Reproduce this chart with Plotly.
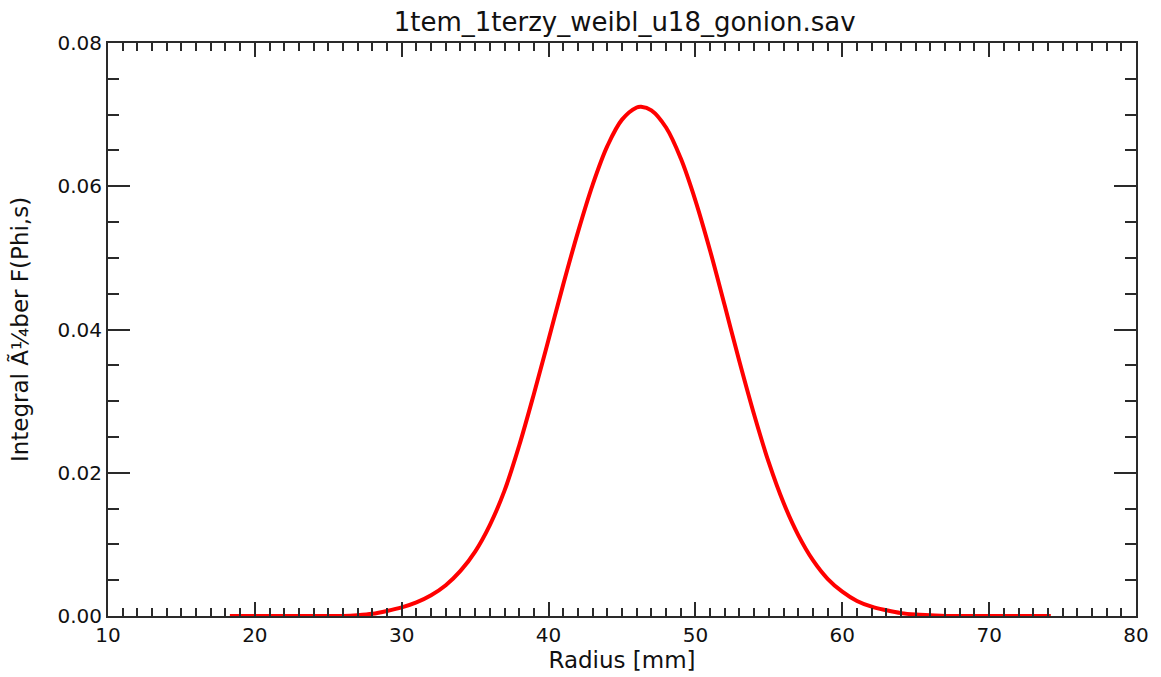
import plotly.graph_objects as go

radius_mm = [18.3, 20, 22, 24, 26, 27, 28, 29, 30, 31, 32, 33, 34, 35, 36, 37, 38, 39, 40,
             41, 42, 43, 44, 45, 46, 46.3, 47, 48, 49, 50, 51, 52, 53, 54, 55, 56, 57,
             58, 59, 60, 61, 62, 63, 64, 65, 66, 67, 68, 70, 72, 74.2]
integral_f = [0.0, 0.0, 0.0, 0.0, 0.0, 0.0001, 0.0003, 0.0007, 0.0012, 0.0019, 0.0029,
              0.0043, 0.0063, 0.0090, 0.0127, 0.0175, 0.0238, 0.0310, 0.0386,
              0.0463, 0.0536, 0.0602, 0.0656, 0.0693, 0.0710, 0.0711, 0.0706, 0.0682,
              0.0639, 0.0580, 0.0510, 0.0433, 0.0355, 0.0281, 0.0214, 0.0158, 0.0113,
              0.0078, 0.0052, 0.0034, 0.0021, 0.0013, 0.0008, 0.0004, 0.0002, 0.0001,
              0.0, 0.0, 0.0, 0.0, 0.0]

x_ticks = [10, 20, 30, 40, 50, 60, 70, 80]
y_ticks = [0.00, 0.02, 0.04, 0.06, 0.08]
y_tick_labels = ["0.00", "0.02", "0.04", "0.06", "0.08"]

title_text = "1tem_1terzy_weibl_u18_gonion.sav"
x_title = "Radius [mm]"
y_title = "Integral Ã¼ber F(Phi,s)"

font_family = "DejaVu Sans"
axis_color = "#2a2a2a"

fig = go.Figure()
fig.add_trace(go.Scatter(
    x=radius_mm, y=integral_f, mode="lines",
    line=dict(color="#ff0000", width=4, shape="spline", smoothing=1.0),
    showlegend=False, cliponaxis=False, hoverinfo="skip",
))

fig.update_layout(
    width=1161, height=677,
    paper_bgcolor="white", plot_bgcolor="white",
    margin=dict(l=108, r=18, t=43, b=61),
    font=dict(family=font_family, size=20, color="#111111"),
    title=dict(text=title_text, x=0.538, xanchor="center", y=0.968, yanchor="middle",
               font=dict(family=font_family, size=26, color="#111111")),
)
fig.update_xaxes(
    range=[10, 80], tickvals=x_ticks, ticktext=[str(v) for v in x_ticks],
    showgrid=False, zeroline=False, showline=True, linecolor=axis_color, linewidth=2,
    mirror="allticks", ticks="inside", ticklen=14, tickwidth=1.5, tickcolor=axis_color,
    minor=dict(dtick=1, ticks="inside", ticklen=8, tickwidth=1.5, tickcolor=axis_color, showgrid=False),
    title=dict(text=x_title, standoff=0, font=dict(family=font_family, size=23)),
    tickfont=dict(family=font_family, size=20),
)
fig.update_yaxes(
    range=[0, 0.08], tickvals=y_ticks, ticktext=y_tick_labels,
    showgrid=False, zeroline=False, showline=True, linecolor=axis_color, linewidth=2,
    mirror="allticks", ticks="inside", ticklen=22, tickwidth=1.5, tickcolor=axis_color,
    minor=dict(dtick=0.005, ticks="inside", ticklen=11, tickwidth=1.5, tickcolor=axis_color, showgrid=False),
    title=dict(text=y_title, standoff=22, font=dict(family=font_family, size=23)),
    tickfont=dict(family=font_family, size=20),
)

fig.write_html(
    "out.html",
    config={"displayModeBar": False},
    post_script="document.body.style.margin='0';document.body.style.overflow='hidden';",
)
